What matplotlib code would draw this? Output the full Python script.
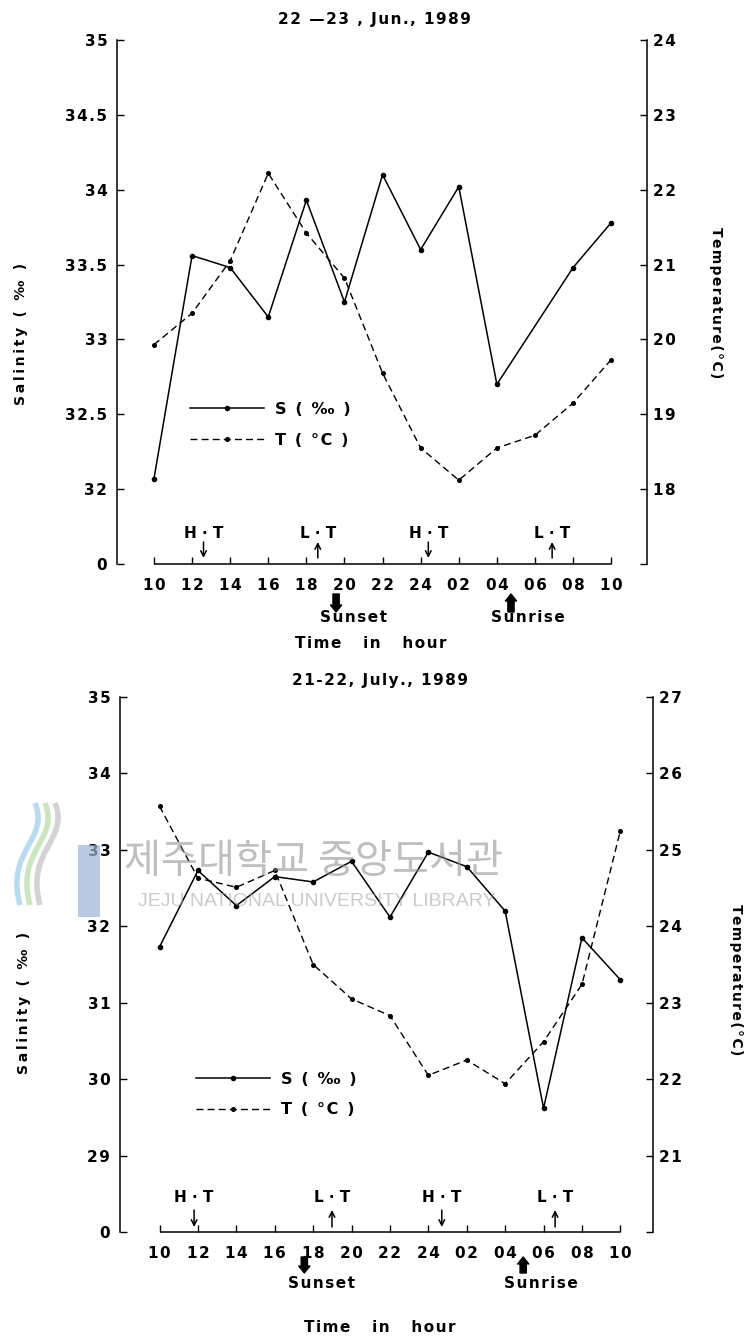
import numpy as np
import matplotlib
matplotlib.use('Agg')
import matplotlib.pyplot as plt
from matplotlib.transforms import offset_copy
from matplotlib.patches import Rectangle, PathPatch
from matplotlib.path import Path

plt.rcParams['font.family'] = ['DejaVu Sans']
plt.rcParams['font.weight'] = 'bold'

# ---- data ----
time_labels = ["10", "12", "14", "16", "18", "20", "22", "24", "02", "04", "06", "08", "10"]

# 22-23 June 1989
jun_sal_pos = [0, 1, 2, 3, 4, 5, 6, 7, 8, 9, 11, 12]
jun_sal = [32.07, 33.56, 33.48, 33.15, 33.93, 33.25, 34.10, 33.60, 34.02, 32.70, 33.48, 33.78]
jun_temp = [19.93, 20.35, 21.05, 22.22, 21.42, 20.82, 19.55, 18.55, 18.12, 18.55, 18.72, 19.15, 19.73]
jun_tide_pos = [1.3, 4.3, 7.2, 10.45]
jun_sun_pos = [4.78, 9.37]

# 21-22 July 1989
jul_sal = [31.73, 32.73, 32.27, 32.65, 32.58, 32.85, 32.12, 32.97, 32.78, 32.20, 29.62, 31.85, 31.30]
jul_temp = [25.57, 24.63, 24.51, 24.73, 23.50, 23.05, 22.83, 22.05, 22.25, 21.94, 22.49, 23.24, 25.25]
jul_tide_pos = [0.9, 4.49, 7.35, 10.3]
jul_sun_pos = [3.77, 9.47]

tide_labels = ["H · T", "L · T", "H · T", "L · T"]
tide_dirs = ["down", "up", "down", "up"]
sun_labels = ["Sunset", "Sunrise"]
sun_dirs = ["down", "up"]

jun_sal_ticks = [31.5, 32, 32.5, 33, 33.5, 34, 34.5, 35]
jun_sal_ticklabels = ["0", "32", "32.5", "33", "33.5", "34", "34.5", "35"]
jun_temp_ticks = [17, 18, 19, 20, 21, 22, 23, 24]
jun_temp_ticklabels = ["", "18", "19", "20", "21", "22", "23", "24"]

jul_sal_ticks = [28, 29, 30, 31, 32, 33, 34, 35]
jul_sal_ticklabels = ["0", "29", "30", "31", "32", "33", "34", "35"]
jul_temp_ticks = [20, 21, 22, 23, 24, 25, 26, 27]
jul_temp_ticklabels = ["", "21", "22", "23", "24", "25", "26", "27"]

W, H = 750, 1340
fig = plt.figure(figsize=(W / 100, H / 100), dpi=100)


def spaced(s, sep='\u200a'):
    # wide letter spacing of the typewriter-era figure
    return sep.join(s)


def px_axes(left, right, top, bottom):
    return fig.add_axes([left / W, 1 - bottom / H, (right - left) / W, (bottom - top) / H])


def draw_panel(ax, xlim, sal_pos, sal, temp, sal_ticks, sal_lab, temp_ticks, temp_lab,
               tide_pos, sun_pos, title, title_xy, xlabel_xy, tlabel_xy, slabel_xy, leg_xy,
               tide_off, sun_off):
    x = np.arange(len(time_labels))
    axT = ax.twinx()
    ax.set_xlim(*xlim)
    ax.set_ylim(sal_ticks[0], sal_ticks[-1])
    axT.set_ylim(temp_ticks[0], temp_ticks[-1])

    ls, = ax.plot(sal_pos, sal, '-', color='black', lw=1.1, marker='o', ms=3, zorder=3)
    lt, = axT.plot(x, temp, color='black', lw=1.0, ls=(0, (5, 3)), marker='o', ms=2.6, zorder=3)

    for a in (ax, axT):
        a.spines['top'].set_visible(False)
        a.spines['bottom'].set_visible(False)
    axT.spines['left'].set_visible(False)
    ax.spines['right'].set_visible(False)
    ax.spines['left'].set_linewidth(1.1)
    axT.spines['right'].set_linewidth(1.1)

    ax.set_yticks(sal_ticks)
    ax.set_yticklabels([spaced(t) for t in sal_lab])
    axT.set_yticks(temp_ticks)
    axT.set_yticklabels([spaced(t) for t in temp_lab])
    ax.tick_params(axis='y', direction='in', length=5, width=1, pad=7, labelsize=11)
    axT.tick_params(axis='y', direction='in', length=5, width=1, pad=4, labelsize=11)

    ax.set_xticks(x)
    ax.set_xticklabels([spaced(t) for t in time_labels])
    ax.tick_params(axis='x', direction='in', length=5, width=1, pad=10, labelsize=11)
    ax.hlines(sal_ticks[0], x[0], x[-1], color='black', lw=1.1, clip_on=False)

    # legend
    axT.legend([ls, lt], [spaced("S ( ‰ )"), spaced("T ( °C )")], loc='upper left',
               bbox_to_anchor=leg_xy, bbox_transform=ax.transAxes, frameon=False, numpoints=1,
               handlelength=4.6, handletextpad=0.7, labelspacing=1.0, borderpad=0,
               borderaxespad=0, prop={'size': 11.5, 'weight': 'bold'})

    # tide marks
    tr = ax.get_xaxis_transform()
    lab_y, a_lo, a_hi = tide_off
    tr_lo = offset_copy(tr, fig=fig, y=a_lo, units='dots')
    tr_hi = offset_copy(tr, fig=fig, y=a_hi, units='dots')
    tr_lab = offset_copy(tr, fig=fig, y=lab_y, units='dots')
    for p, lab, d in zip(tide_pos, tide_labels, tide_dirs):
        ax.text(p, 0, lab, transform=tr_lab, ha='center', va='center', fontsize=11)
        if d == 'down':
            head, tail = tr_lo, tr_hi
        else:
            head, tail = tr_hi, tr_lo
        ax.annotate('', xy=(p, 0), xycoords=head, xytext=(p, 0), textcoords=tail,
                    arrowprops=dict(arrowstyle='->', lw=1.1, color='black',
                                    shrinkA=0, shrinkB=0))

    # sunset / sunrise
    s_hi, s_lo, s_lab = sun_off
    tr_shi = offset_copy(tr, fig=fig, y=-s_hi, units='dots')
    tr_slo = offset_copy(tr, fig=fig, y=-s_lo, units='dots')
    tr_slab = offset_copy(tr, fig=fig, y=-s_lab, units='dots')
    for p, lab, d in zip(sun_pos, sun_labels, sun_dirs):
        if d == 'down':
            head, tail = tr_slo, tr_shi
        else:
            head, tail = tr_shi, tr_slo
        ax.annotate('', xy=(p, 0), xycoords=head, xytext=(p, 0), textcoords=tail,
                    arrowprops=dict(arrowstyle='simple,head_width=0.8,head_length=0.5,tail_width=0.45',
                                    fc='black', ec='black', mutation_scale=10,
                                    shrinkA=0, shrinkB=0))
        ax.text(p + 0.45, 0, spaced(lab), transform=tr_slab, ha='center', va='center',
                fontsize=11)

    ax.text(title_xy[0], title_xy[1], spaced(title), transform=ax.transAxes, ha='center',
            va='center', fontsize=11)
    ax.text(xlabel_xy[0], xlabel_xy[1], spaced("Time   in   hour"), transform=ax.transAxes,
            ha='center', va='center', fontsize=11)
    fig.text(tlabel_xy[0] / W, 1 - tlabel_xy[1] / H, spaced("Temperature(°C)"), rotation=270,
             ha='center', va='center', fontsize=10)
    fig.text(slabel_xy[0] / W, 1 - slabel_xy[1] / H, spaced("Salinity ( ‰ )", '\u2009'),
             rotation=90, ha='center', va='center', fontsize=10)
    return axT


ax1 = px_axes(117, 647, 40, 564)
draw_panel(ax1, (-0.97, 12.94), jun_sal_pos, jun_sal, jun_temp,
           jun_sal_ticks, jun_sal_ticklabels, jun_temp_ticks, jun_temp_ticklabels,
           jun_tide_pos, jun_sun_pos, "22 —23 , Jun., 1989",
           (0.485, 1.04), (0.478, -0.152), (716, 303), (21, 334), (0.138, 0.31),
           (31, 6, 22), (30, 48, 53))

ax2 = px_axes(120, 653, 697, 1232)
draw_panel(ax2, (-1.03, 12.85), list(range(len(jul_sal))), jul_sal, jul_temp,
           jul_sal_ticks, jul_sal_ticklabels, jul_temp_ticks, jul_temp_ticklabels,
           jul_tide_pos, jul_sun_pos, "21-22, July., 1989",
           (0.488, 1.03), (0.488, -0.178), (736, 980), (24, 1003), (0.143, 0.30),
           (34, 5, 22), (25, 41, 52))

# library watermark
fig.text(313 / W, 1 - 862 / H, "제주대학교 중앙도서관", fontsize=29, color='#8c8c8c',
         alpha=0.55, ha='center', va='center', family=['Noto Sans CJK KR'], weight='normal')
fig.text(317 / W, 1 - 902 / H, "JEJU NATIONAL UNIVERSITY LIBRARY", fontsize=14,
         color='#a0a0a0', alpha=0.55, ha='center', va='center', weight='normal',
         family=['Liberation Sans'])
fig.patches.append(Rectangle((78 / W, 1 - 917 / H), 22 / W, 72 / H, transform=fig.transFigure,
                             color='#9fb3d6', alpha=0.7, lw=0))
for col, dx in [('#a9d3ec', 0), ('#bfe0b0', 10), ('#c8c8c8', 20)]:
    verts = [((20 + dx) / W, 1 - 905 / H), ((5 + dx) / W, 1 - 850 / H),
             ((50 + dx) / W, 1 - 840 / H), ((35 + dx) / W, 1 - 803 / H)]
    fig.patches.append(PathPatch(Path(verts, [Path.MOVETO, Path.CURVE4, Path.CURVE4, Path.CURVE4]),
                                 transform=fig.transFigure, fc='none', ec=col, lw=4, alpha=0.8))

fig.savefig("out.png", dpi=100)
